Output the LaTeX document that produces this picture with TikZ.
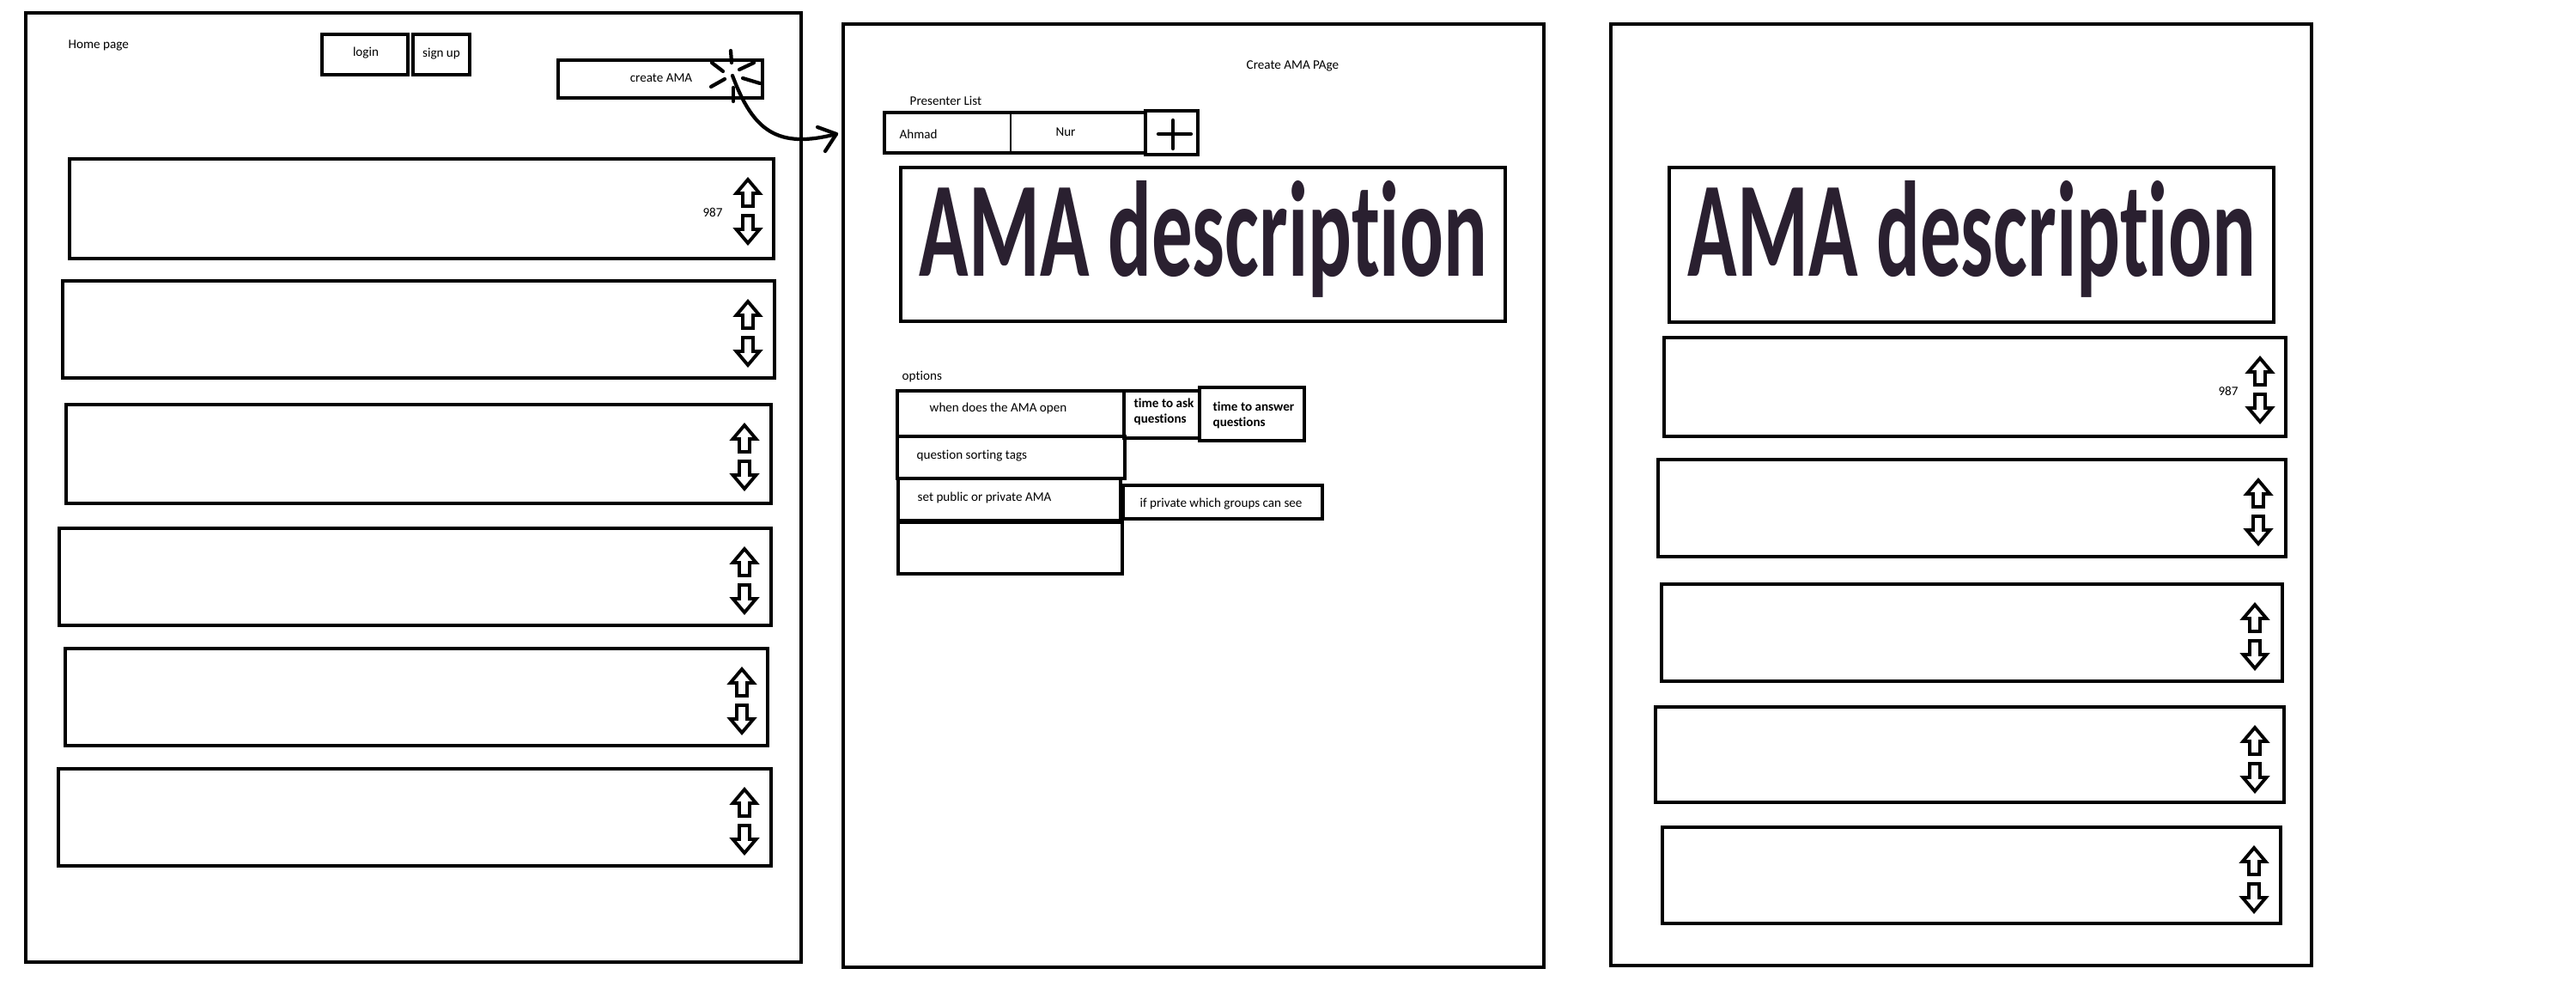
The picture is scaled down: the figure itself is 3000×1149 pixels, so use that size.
\documentclass[tikz,border=0pt]{standalone}
\usepackage{fontspec}
\setmainfont{Carlito}[Ligatures=NoCommon]
\usepackage{graphicx}
\definecolor{ctdark}{HTML}{2A2030}
\newcommand\updn[2]{%
  \draw[glyph] (#1,#2+24) -- (#1+13.5,#2+40) -- (#1+6,#2+40) -- (#1+6,#2+55) -- (#1-6,#2+55) -- (#1-6,#2+40) -- (#1-13.5,#2+40) -- cycle;
  \draw[glyph] (#1-6,#2+66) -- (#1+6,#2+66) -- (#1+6,#2+82) -- (#1+13.5,#2+82) -- (#1,#2+98) -- (#1-13.5,#2+82) -- (#1-6,#2+82) -- cycle;
}
\newcommand\amadesc[3]{%
  \node[desc] (#3) at (#1,#2) {\resizebox{6.61cm}{1.11cm}{\bfseries AMA description}};
}
\begin{document}
\begin{tikzpicture}[x=0.01cm, y=-0.01cm,
  box/.style={draw=black, line width=1.2pt},
  glyph/.style={draw=black, line width=1.1pt, line join=miter},
  pen/.style={draw=black, line width=1.2pt, line cap=round, line join=round},
  lbl/.style={font=\fontsize{4.3}{5.2}\selectfont, inner sep=0pt, anchor=west},
  blbl/.style={font=\fontsize{4.3}{5.2}\selectfont\bfseries, inner sep=0pt, anchor=west},
  clbl/.style={font=\fontsize{4.3}{5.2}\selectfont, inner sep=0pt},
  desc/.style={inner sep=0pt, anchor=base west, text=ctdark, font=\fontsize{20}{24}\selectfont}]
\useasboundingbox[fill=white] (0,0) rectangle (3000,1149);

% ---------- page frames ----------
\draw[box] (30,15) rectangle (933,1120);
\draw[box] (982,28) rectangle (1798,1126);
\draw[box] (1876,28) rectangle (2692,1124);

% ---------- home page ----------
\node[lbl] (home) at (79,53) {Home page};
\draw[box] (375,40) rectangle (475,87);
\node[clbl] (login) at (426,62) {login};
\draw[box] (481,40) rectangle (547,87);
\node[clbl] (signup) at (514,63) {sign up};
\draw[box] (650,70) rectangle (888,114);
\node[clbl] (create) at (770,91) {create AMA};

% click burst
\coordinate (burst) at (853,88);
\draw[pen] (851,59) -- (852,73);
\draw[pen] (854,102) -- (854,118);
\draw[pen] (829,73) -- (842,83);
\draw[pen] (861,81) -- (878,73);
\draw[pen] (828,101) -- (844,92);
\draw[pen] (865,91) -- (885,97);

% transition arrow
\coordinate (tip) at (974,156);
\draw[pen] (burst) .. controls (877,152) and (905,174) .. (tip);
\draw[pen] (952,148) -- (tip) -- (961,176);

% list items (home)
\draw[box] (81,185) rectangle (901,301);
\node[clbl] (v1) at (830,247) {987};
\updn{871}{185}
\draw[box] (73,327) rectangle (902,440);
\updn{871}{327}
\draw[box] (77,471) rectangle (898,586);
\updn{867}{471}
\draw[box] (69,615) rectangle (898,728);
\updn{867}{615}
\draw[box] (76,755) rectangle (894,868);
\updn{864}{755}
\draw[box] (68,895) rectangle (898,1008);
\updn{867}{895}

% ---------- create AMA page ----------
\node[lbl] (ctitle) at (1451,77) {Create AMA PAge};
\node[lbl] (plist) at (1059,117) {Presenter List};
\draw[box] (1030,131) rectangle (1334,178);
\draw[black, line width=0.3pt] (1177,131) -- (1177,178);
\node[lbl] (ahmad) at (1047,156) {Ahmad};
\node[clbl] (nur) at (1241,154) {Nur};
\draw[box] (1334,129) rectangle (1395,180);
\draw[pen] (1349,156) -- (1387,156);
\draw[pen] (1366,140) -- (1366,173);

\draw[box] (1049,195) rectangle (1753,374);
\amadesc{1070}{321}{descA}

\node[lbl] (opts) at (1050,439) {options};
\draw[box] (1045,455) rectangle (1309,508);
\node[lbl] (open) at (1082,475) {when does the AMA open};
\draw[box] (1309,455) rectangle (1397,510);
\node[blbl] (ask1) at (1320,469) {time to ask};
\node[blbl] (ask2) at (1320,488) {questions};
\draw[box] (1397,451) rectangle (1519,513);
\node[blbl] (ans1) at (1412,473) {time to answer};
\node[blbl] (ans2) at (1412,492) {questions};
\draw[box] (1045,508) rectangle (1310,557);
\node[lbl] (tags) at (1067,531) {question sorting tags};
\draw[box] (1046,557) rectangle (1305,606);
\node[lbl] (pub) at (1068,579) {set public or private AMA};
\draw[box] (1046,608) rectangle (1307,668);
\draw[box] (1308,565) rectangle (1540,604);
\node[lbl] (groups) at (1327,587) {if private which groups can see};

% ---------- AMA page ----------
\draw[box] (1944,195) rectangle (2648,375);
\amadesc{1965}{321}{descB}

\draw[box] (1938,393) rectangle (2662,508);
\node[clbl] (v2) at (2595,455) {987};
\updn{2632}{393}
\draw[box] (1931,535) rectangle (2662,648);
\updn{2630}{535}
\draw[box] (1935,680) rectangle (2658,793);
\updn{2626}{680}
\draw[box] (1928,823) rectangle (2660,934);
\updn{2626}{823}
\draw[box] (1936,963) rectangle (2656,1075);
\updn{2625}{963}
\end{tikzpicture}
\end{document}
